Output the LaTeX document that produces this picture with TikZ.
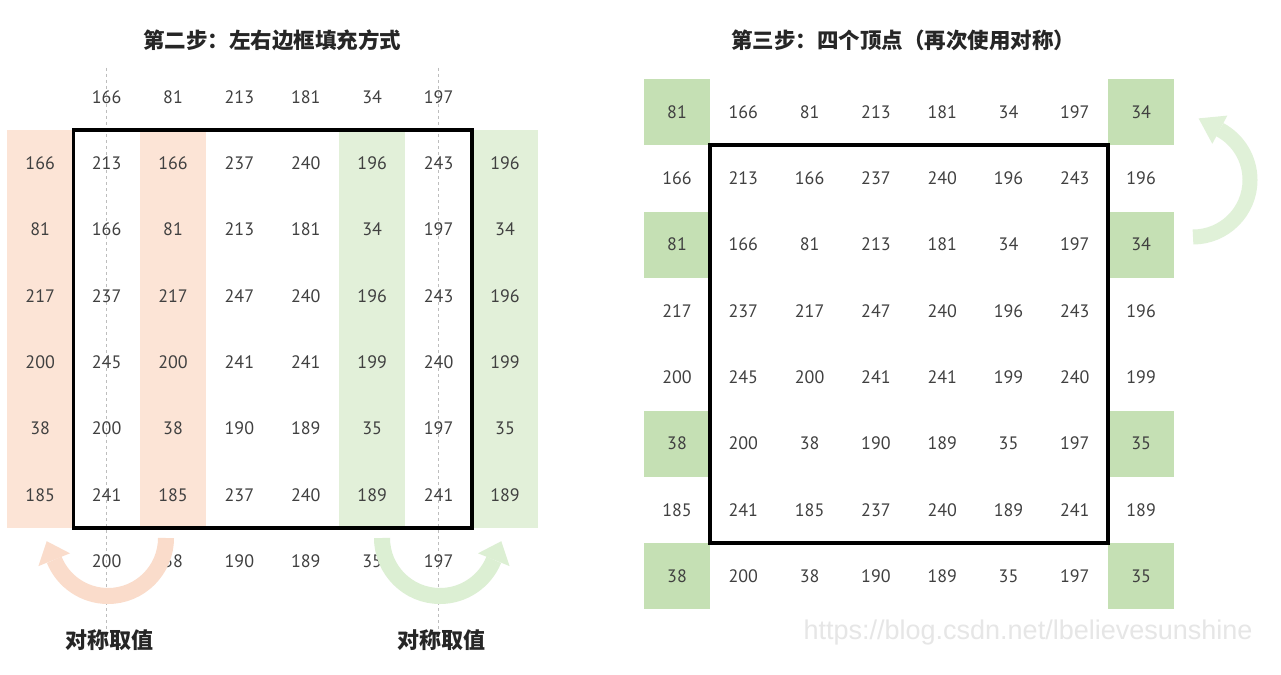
\documentclass[tikz,border=0pt]{standalone}
\usepackage{fontspec}
\setmainfont{PT Sans}
\newfontfamily\cjk{Noto Sans CJK SC}
\newfontfamily\wmfont{Liberation Sans}
\definecolor{numc}{HTML}{404040}
\definecolor{orfill}{HTML}{FCE4D6}
\definecolor{grfill}{HTML}{E2F0D9}
\definecolor{grcell}{HTML}{C5E0B4}
\definecolor{orarrow}{HTML}{FADCCB}
\definecolor{grarrow}{HTML}{DCEFD3}
\definecolor{grarrowb}{HTML}{E0F1D8}
\definecolor{dashc}{HTML}{BDBDBD}
\definecolor{wmc}{HTML}{E6E6E6}
\begin{document}
\begin{tikzpicture}[x=1pt,y=-1pt,
  num/.style={font=\fontsize{18}{18}\selectfont, text=numc, inner sep=0pt, anchor=center},
  title/.style={font=\cjk\bfseries\fontsize{21.5}{21.5}\selectfont, text=black!85, inner sep=0pt},
  lbl/.style={font=\cjk\bfseries\fontsize{22}{22}\selectfont, text=black!85, inner sep=0pt},
  guide/.style={dashc, dashed, line width=0.8pt},
  frame/.style={black, line width=3.5pt}]
\useasboundingbox (0,0) rectangle (1281,674);
\fill[white] (0,0) rectangle (1281,674);

% ---------------- left panel ----------------
\fill[orfill] (7,130) rectangle (73.4,528);
\fill[orfill] (139.8,130) rectangle (206.2,528);
\fill[grfill] (339,130) rectangle (405.4,528);
\fill[grfill] (471.8,130) rectangle (538.2,528);
\draw[guide] (106.6,68) -- (106.6,630);
\draw[guide] (438.6,68) -- (438.6,630);
\draw[frame] (73.4,130) rectangle (471.8,528);

\node[title] (t1) at (272,40) {第二步：左右边框填充方式};

\foreach \v [count=\c from 1] in {166,81,213,181,34,197}
  \node[num] (L-0-\c) at ({40.2+66.4*\c},97) {\v};
\foreach \row [count=\r from 1] in {
  {166,213,166,237,240,196,243,196},
  {81,166,81,213,181,34,197,34},
  {217,237,217,247,240,196,243,196},
  {200,245,200,241,241,199,240,199},
  {38,200,38,190,189,35,197,35},
  {185,241,185,237,240,189,241,189}}
  \foreach \v [count=\c from 0] in \row
    \node[num] (L-\r-\c) at ({40.2+66.4*\c},{97+66.3*\r}) {\v};
\foreach \v [count=\c from 1] in {200,38,190,189,35,197}
  \node[num] (L-7-\c) at ({40.2+66.4*\c},561) {\v};

% symmetric arrows (left panel)
\draw[orarrow, line width=16pt] (166,538) arc[start angle=0, end angle=158, radius=58];
\fill[orarrow] (38.4,566.1) -- (70.0,553.3) -- (46.7,541.2) -- cycle;
\draw[grarrow, line width=16pt] (382,538) arc[start angle=180, end angle=22, radius=58];
\fill[grarrow] (509.6,566.1) -- (478,553.3) -- (501.3,541.2) -- cycle;

\node[lbl] (s1) at (109,640) {对称取值};
\node[lbl] (s2) at (441,640) {对称取值};

% ---------------- right panel ----------------
\foreach \cx/\cy in {0/0,7/0,0/2,7/2,0/5,7/5,0/7,7/7}
  \fill[grcell] ({677+66.3*\cx-33},{112+66.3*\cy-33}) rectangle ++(66,66);
\draw[frame] (710,145) rectangle (1108,543);

\node[title] (t2) at (903,40) {第三步：四个顶点（再次使用对称）};

\foreach \row [count=\r from 0] in {
  {81,166,81,213,181,34,197,34},
  {166,213,166,237,240,196,243,196},
  {81,166,81,213,181,34,197,34},
  {217,237,217,247,240,196,243,196},
  {200,245,200,241,241,199,240,199},
  {38,200,38,190,189,35,197,35},
  {185,241,185,237,240,189,241,189},
  {38,200,38,190,189,35,197,35}}
  \foreach \v [count=\c from 0] in \row
    \node[num] (R-\r-\c) at ({677+66.3*\c},{112+66.3*\r}) {\v};

\draw[grarrowb, line width=15pt] (1193,237) arc[start angle=90, end angle=-62, radius=57];
\fill[grarrowb] (1227.3,115.6) -- (1212.3,143.8) -- (1198.6,118.4) -- cycle;

\node[font=\wmfont\fontsize{27}{27}\selectfont, text=wmc, inner sep=0pt] (wm) at (1028,633) {https://blog.csdn.net/lbelievesunshine};
\end{tikzpicture}
\end{document}
